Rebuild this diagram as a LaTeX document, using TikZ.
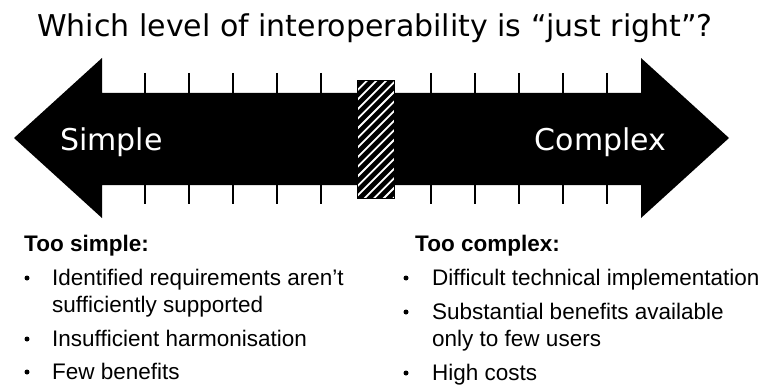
\documentclass[tikz,border=0pt]{standalone}
\usepackage{fontspec}
\setmainfont{Liberation Sans}
\newfontfamily\verdfont{DejaVu Sans}
\usepackage{tikz}
\usepackage{xcolor}
\usetikzlibrary{positioning,calc}
\definecolor{ink}{HTML}{000000}
\definecolor{paper}{HTML}{FFFFFF}
\tikzset{
  titletext/.style={inner sep=0pt,anchor=base,text=ink,
                    font=\verdfont\fontsize{30}{36}\selectfont},
  poletext/.style={inner sep=0pt,anchor=base,text=paper,
                   font=\verdfont\fontsize{30}{36}\selectfont},
  headtext/.style={inner sep=0pt,anchor=base west,text=ink,
                   font=\bfseries\fontsize{22.5}{27}\selectfont},
  itemtext/.style={inner sep=0pt,anchor=base west,text=ink,
                   font=\fontsize{22.5}{27}\selectfont},
  bulletdot/.style={circle,fill=ink,inner sep=0pt,minimum size=5pt},
  tickline/.style={draw=ink,line width=2pt},
  scalebar/.style={fill=ink,draw=none},
  hatchbox/.style={fill=ink,draw=ink,line width=1pt}
}

\begin{document}
\begin{tikzpicture}[x=1pt,y=-1pt]
    \path[use as bounding box] (0,0) rectangle (770,385);

    % title
    \node[titletext] (title) at (375,37)
      {Which level of interoperability is “just right”?};

    % double arrow
    \fill[scalebar] (14,138) -- (102,58) -- (102,93) -- (641,93) -- (641,58)
      -- (729,138) -- (641,218) -- (641,185) -- (102,185) -- (102,218) -- cycle;
    \foreach \tx in {145,189,233,277,321,431,475,519,563,607} {
      \draw[tickline] (\tx,73) -- (\tx,93);
      \draw[tickline] (\tx,185) -- (\tx,204);
    }
    \node[poletext] (simple) at (111.5,150) {Simple};
    \node[poletext] (complex) at (600.5,150) {Complex};

    % "just right" marker
    \fill[hatchbox] (357,81) rectangle (394,198);
    \begin{scope}
      \clip (357,81) rectangle (394,198);
      \foreach \hy in {0,9.6,...,170}
        \draw[paper,line width=1.8pt] (350,88+\hy) -- (401,37+\hy);
    \end{scope}
    \draw[ink,line width=1pt] (357,81) rectangle (394,198);

    % too simple
    \node[headtext] (simplehead) at (24,251) {Too simple:};
    \node[bulletdot] (sb1) at (27,278) {};
    \node[itemtext] (si1) at (52,285) {Identified requirements aren’t};
    \node[itemtext] (si1b) at (52,312) {sufficiently supported};
    \node[bulletdot] (sb2) at (27,339) {};
    \node[itemtext] (si2) at (52,346) {Insufficient harmonisation};
    \node[bulletdot] (sb3) at (27,372) {};
    \node[itemtext] (si3) at (52,379) {Few benefits};

    % too complex
    \node[headtext] (complexhead) at (415,251) {Too complex:};
    \node[bulletdot] (cb1) at (406,278) {};
    \node[itemtext] (ci1) at (432,285) {Difficult technical implementation};
    \node[bulletdot] (cb2) at (406,312) {};
    \node[itemtext] (ci2) at (432,319) {Substantial benefits available};
    \node[itemtext] (ci2b) at (432,346) {only to few users};
    \node[bulletdot] (cb3) at (406,373) {};
    \node[itemtext] (ci3) at (432,380) {High costs};
\end{tikzpicture}
\end{document}
